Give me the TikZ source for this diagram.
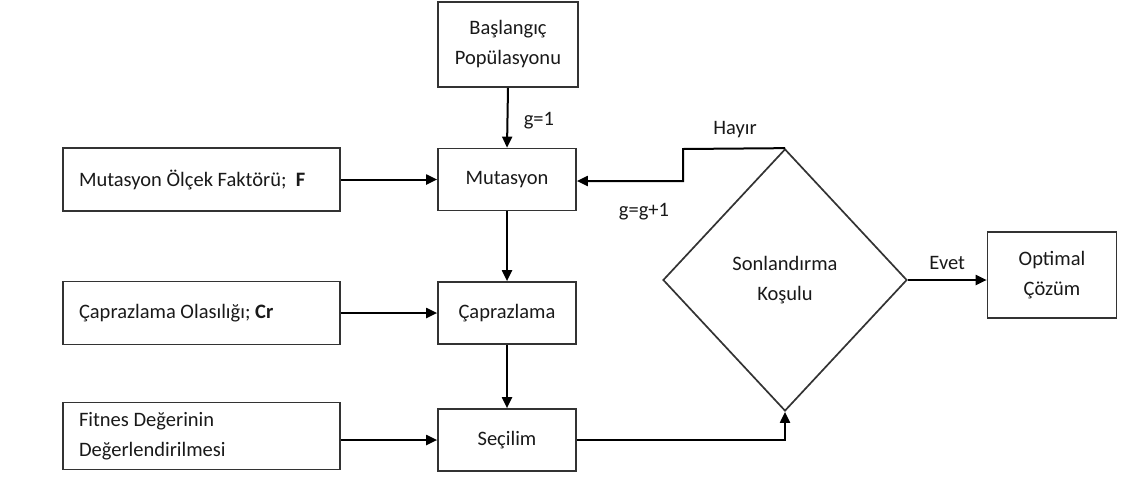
\documentclass[tikz,border=0pt]{standalone}
\usepackage{fontspec}
\setmainfont{Carlito}
\usetikzlibrary{arrows.meta,shapes.geometric}
\begin{document}
\begin{tikzpicture}[x=1pt,y=-1pt,
  font=\fontsize{20.5}{30}\selectfont,
  box/.style={draw=black!80, line width=1.7pt, inner sep=0pt, text=black!90},
  sidebox/.style={box, minimum width=277, text width=245, align=flush left},
  conn/.style={line width=2pt, -{Triangle[length=11pt,width=10pt]}},
  lbl/.style={text=black!90}]
\useasboundingbox (0,0) rectangle (1125,488);
% main column
\node[box, minimum width=140, minimum height=85, align=center] (start) at (508,44.5) {Başlangıç\\Popülasyonu};
\node[box, minimum width=138, minimum height=62] (mut) at (507,179.5) {Mutasyon};
\node[box, minimum width=138, minimum height=62] (cap) at (507,313) {Çaprazlama};
\node[box, minimum width=138, minimum height=62] (sec) at (507,440) {Seçilim};
% left column
\node[sidebox, minimum height=63] (F) at (201.5,179.5) {Mutasyon Ölçek Faktörü;\ \ \textbf{F}};
\node[sidebox, minimum height=63] (Cr) at (201.5,313) {Çaprazlama Olasılığı; \textbf{Cr}};
\node[sidebox, minimum height=67] (fit) at (201.5,436) {Fitnes Değerinin\\Değerlendirilmesi};
% decision
\node[draw=black!80, line width=1.7pt, diamond, minimum width=244, minimum height=262, inner sep=0pt, align=center, text=black!90] (dec) at (785,280) {Sonlandırma\\Koşulu};
\node[box, minimum width=129, minimum height=86, align=center] (opt) at (1052,275) {Optimal\\Çözüm};
% connectors
\draw[conn] (start.south) -- node[lbl, right=12pt, pos=0.55] {g=1} (mut.north);
\draw[conn] (mut.south) -- (cap.north);
\draw[conn] (cap.south) -- (sec.north);
\draw[conn] (F.east) -- (mut.west);
\draw[conn] (Cr.east) -- (cap.west);
\draw[conn] (fit.east |- sec.west) -- (sec.west);
\coordinate (h1) at (683,149);
\coordinate (h2) at (683,181);
\draw[conn] (dec.north) -- (h1) -- (h2) -- (mut.east |- h2);
\node[lbl] (hayir) at (735,130) {Hayır};
\node[lbl] (gg) at (644,212) {g=g+1};
\draw[conn] (sec.east) -| (dec.south);
\draw[conn] (dec.east) -- node[lbl, above=6pt] {Evet} (opt.west |- dec.east);
\end{tikzpicture}
\end{document}
